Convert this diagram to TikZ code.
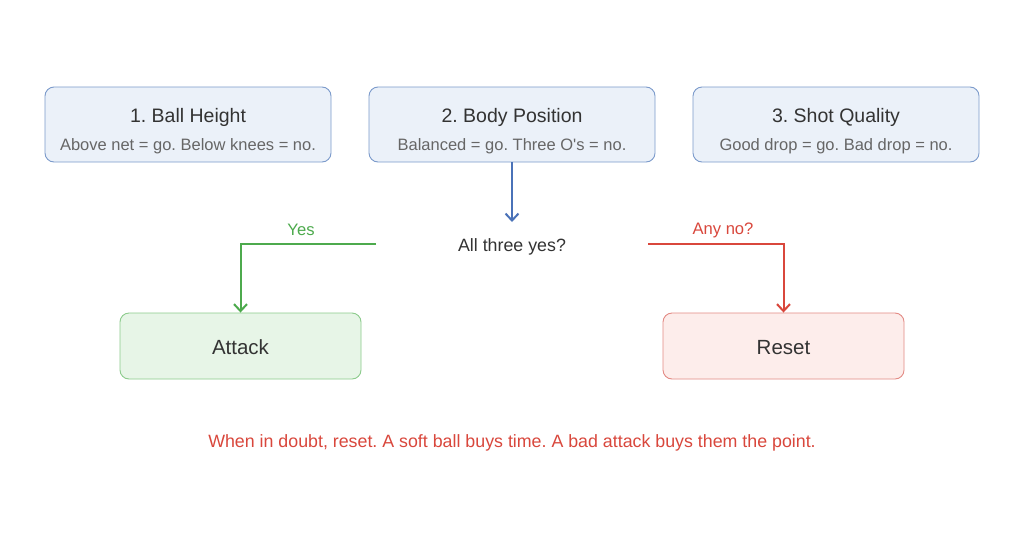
\documentclass[tikz,border=0pt]{standalone}
\usepackage{fontspec}
\setmainfont{Liberation Sans}[Mapping=]
\frenchspacing
\usetikzlibrary{arrows.meta}
\definecolor{bluefill}{HTML}{EBF1F9}
\definecolor{blueline}{HTML}{7B9ACB}
\definecolor{bluearrow}{HTML}{4A72B8}
\definecolor{greenfill}{HTML}{E7F5E7}
\definecolor{greenline}{HTML}{8CCB8C}
\definecolor{greenarrow}{HTML}{4DAA4D}
\definecolor{redfill}{HTML}{FDEDEB}
\definecolor{redline}{HTML}{E38A84}
\definecolor{redarrow}{HTML}{D9473C}
\definecolor{titlecol}{HTML}{333333}
\definecolor{subcol}{HTML}{666666}
\tikzset{
  topbox/.style={draw=blueline, fill=bluefill, rounded corners=9pt, line width=0.9pt, minimum width=286pt, minimum height=75pt},
  greenbox/.style={draw=greenline, fill=greenfill, rounded corners=9pt, line width=0.9pt, minimum width=241pt, minimum height=66pt},
  redbox/.style={draw=redline, fill=redfill, rounded corners=9pt, line width=0.9pt, minimum width=241pt, minimum height=66pt},
  bigtxt/.style={font=\fontsize{20.5}{24}\selectfont, text=titlecol},
  ttl/.style={font=\fontsize{19.5}{23}\selectfont, text=titlecol},
  sub/.style={font=\fontsize{16.5}{20}\selectfont, text=subcol},
  arr/.style={line width=2pt, -{Straight Barb[length=7pt,width=13pt]}},
}
\begin{document}
\begin{tikzpicture}[x=1pt,y=-1pt]
\useasboundingbox (0,0) rectangle (1024,536);
\fill[white] (0,0) rectangle (1024,536);
\node[topbox] (b1) at (188,124.5) {};
\node[topbox] (b2) at (512,124.5) {};
\node[topbox] (b3) at (836,124.5) {};
\node[ttl] (t1) at (188,117.5) {1. Ball Height};
\node[sub] (s1) at (188,146) {Above net = go. Below knees = no.};
\node[ttl] (t2) at (512,117.5) {2. Body Position};
\node[sub] (s2) at (512,146) {Balanced = go. Three O\symbol{"27}s = no.};
\node[ttl] (t3) at (836,117.5) {3. Shot Quality};
\node[sub] (s3) at (836,146) {Good drop = go. Bad drop = no.};
\node[font=\fontsize{17.8}{21}\selectfont, text=titlecol] (q) at (512,247) {All three yes?};
\coordinate (qin) at (512,222);
\coordinate (gl) at (376,244);
\coordinate (rl) at (648,244);
\node[greenbox] (att) at (240.5,346) {};
\node[redbox] (res) at (783.5,346) {};
\node[bigtxt] (attl) at (240.5,347.5) {Attack};
\node[bigtxt] (resl) at (783.5,347.5) {Reset};
\draw[arr, bluearrow] (b2.south) -- (qin);
\draw[arr, greenarrow] (gl) -| (att.north);
\draw[arr, redarrow] (rl) -| (res.north);
\node[font=\fontsize{16.6}{20}\selectfont, text=greenarrow] (yes) at (301,230) {Yes};
\node[font=\fontsize{16.6}{20}\selectfont, text=redarrow] (no) at (723,230) {Any no?};
\node[font=\fontsize{17.8}{21}\selectfont, text=redarrow] (foot) at (512,443) {When in doubt, reset. A soft ball buys time. A bad attack buys them the point.};
\end{tikzpicture}
\end{document}
